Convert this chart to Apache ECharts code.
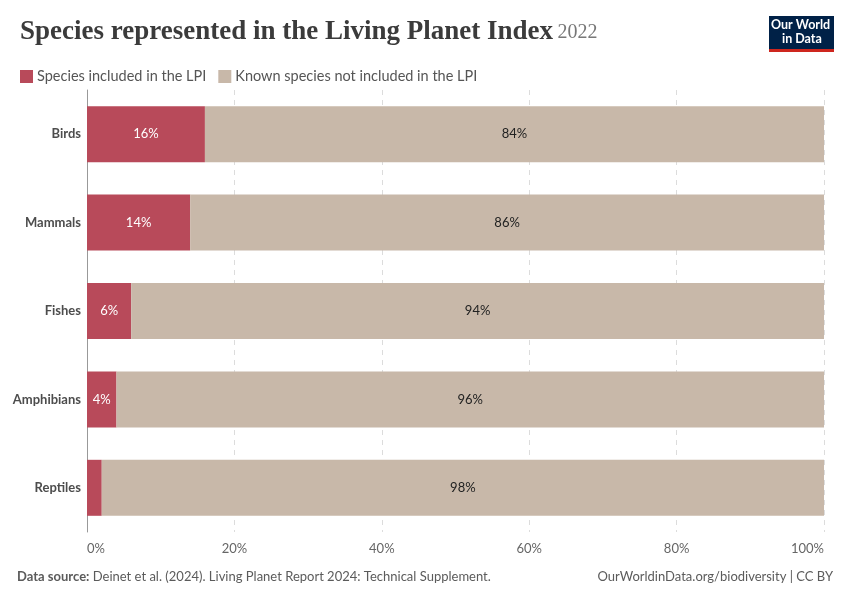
<!DOCTYPE html>
<html><head><meta charset="utf-8">
<script src="https://cdn.jsdelivr.net/npm/echarts@6/dist/echarts.min.js"></script>
<style>html,body{margin:0;padding:0;background:#fff}#c{width:850px;height:600px}</style>
</head><body><div id="c"></div>
<script>
const categories = ['Birds', 'Mammals', 'Fishes', 'Amphibians', 'Reptiles'];
const included = [16, 14, 6, 4, 2];
const notIncluded = [84, 86, 94, 96, 98];
const xTicks = [0, 20, 40, 60, 80, 100];
const seriesNames = ['Species included in the LPI', 'Known species not included in the LPI'];

const chart = echarts.init(document.getElementById('c'), null, {renderer: 'canvas'});
const font = 'Lato, "Noto Sans", sans-serif';
chart.setOption({
  animation: false,
  textStyle: {fontFamily: font},
  title: {
    left: 15, top: 14,
    text: '{a|Species represented in the Living Planet Index} {b|' + '2022' + '}',
    textStyle: {
      rich: {
        a: {fontFamily: '"Liberation Serif", "DejaVu Serif", serif', fontSize: 27, color: '#3b3b3b', fontWeight: 'bold'},
        b: {fontFamily: '"Liberation Serif", "DejaVu Serif", serif', fontSize: 20, color: '#777', fontWeight: 'normal'}
      }
    }
  },
  legend: {
    left: 15, top: 64, itemWidth: 13, itemHeight: 13, itemGap: 12, icon: 'rect',
    textStyle: {color: '#555', fontSize: 14.5, fontFamily: font, padding: [0, 0, 0, -1]},
    data: seriesNames
  },
  grid: {left: 87, right: 26, top: 90, bottom: 68, containLabel: false},
  xAxis: {
    type: 'value', min: 0, max: 100, interval: 20,
    axisLine: {show: false}, axisTick: {show: false},
    splitLine: {show: true, lineStyle: {color: '#dcdcdc', type: [5, 5], width: 1}},
    axisLabel: {color: '#666', fontSize: 13, margin: 10, formatter: v => v + '%',
      alignMinLabel: 'left', alignMaxLabel: 'right'}
  },
  yAxis: {
    type: 'category', data: categories, inverse: true,
    axisLine: {show: true, lineStyle: {color: '#999'}}, axisTick: {show: false},
    axisLabel: {color: '#4d4d4d', fontSize: 13, fontWeight: 'bold', margin: 6}
  },
  series: [
    {
      name: seriesNames[0], type: 'bar', stack: 's', data: included, barWidth: 56,
      itemStyle: {color: '#B84A5A'},
      label: {show: true, position: 'inside', color: '#fff', fontSize: 13, fontFamily: font,
        formatter: p => p.value >= 3 ? p.value + '%' : ''}
    },
    {
      name: seriesNames[1], type: 'bar', stack: 's', data: notIncluded, barWidth: 56,
      itemStyle: {color: '#C8B8A9'},
      label: {show: true, position: 'inside', color: '#222', fontSize: 13, fontFamily: font,
        formatter: p => p.value + '%'}
    }
  ],
  graphic: [
    {type: 'rect', left: 769, top: 16, shape: {width: 65, height: 33}, style: {fill: '#002147'}},
    {type: 'rect', left: 769, top: 49, shape: {width: 65, height: 3}, style: {fill: '#CE261E'}},
    {type: 'text', left: 771, top: 18, style: {text: 'Our World', fill: '#fff', font: 'bold 12.5px Lato, sans-serif'}},
    {type: 'text', left: 782, top: 32, style: {text: 'in Data', fill: '#fff', font: 'bold 12.5px Lato, sans-serif'}},
    {type: 'text', left: 17, top: 570, style: {
      text: '{b|Data source:} Deinet et al. (2024). Living Planet Report 2024: Technical Supplement.',
      fill: '#5b5b5b', font: '13px Lato, sans-serif',
      rich: {b: {fontWeight: 'bold', fill: '#5b5b5b', fontSize: 13, fontFamily: font}}
    }},
    {type: 'text', right: 17, top: 570, style: {
      text: 'OurWorldinData.org/biodiversity | CC BY', fill: '#5b5b5b', font: '13px Lato, sans-serif'
    }}
  ]
});
</script></body></html>
